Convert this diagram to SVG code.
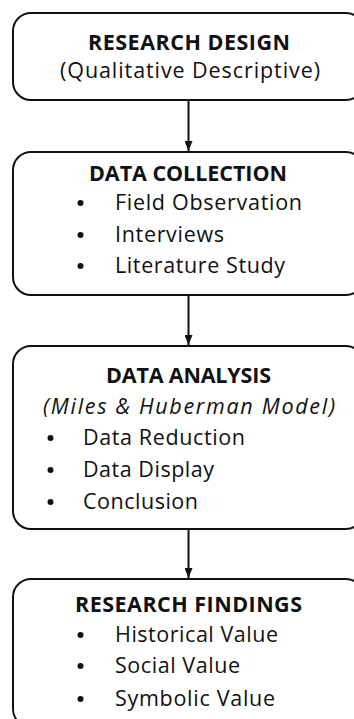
<svg xmlns="http://www.w3.org/2000/svg" width="354" height="719" viewBox="0 0 354 719">
<style>
.box{fill:#fff;stroke:#111;stroke-width:2}
.t{font-family:"Open Sans","Noto Sans","Liberation Sans",sans-serif;font-size:21.5px;fill:#111}
.b{font-weight:bold}
.i{font-style:italic}
.dot{fill:#111}
.con{stroke:#111;stroke-width:2;fill:none}
</style>
<defs>
<marker id="ah" viewBox="0 0 10 8" refX="10" refY="4" markerWidth="10" markerHeight="8" markerUnits="userSpaceOnUse" orient="auto">
<path d="M0,0 L10,4 L0,8 Z" fill="#111"/>
</marker>
</defs>
<rect width="354" height="719" fill="#fff"/>
<g id="connectors">
<line class="con" x1="188.5" y1="101" x2="188.5" y2="151" marker-end="url(#ah)"/>
<line class="con" x1="188.5" y1="296" x2="188.5" y2="345" marker-end="url(#ah)"/>
<line class="con" x1="188.5" y1="530" x2="188.5" y2="578" marker-end="url(#ah)"/>
</g>
<g id="research-design">
<rect class="box" x="13" y="13" width="351" height="87" rx="18"/>
<text class="t b" x="88" y="49.5" textLength="202">RESEARCH DESIGN</text>
<text class="t" x="60" y="77.5" textLength="260">(Qualitative Descriptive)</text>
</g>
<g id="data-collection">
<rect class="box" x="13" y="152" width="351" height="143" rx="18"/>
<text class="t b" x="89" y="181" textLength="198">DATA COLLECTION</text>
<circle class="dot" cx="80.5" cy="203" r="3"/>
<text class="t" x="115" y="210" textLength="187">Field Observation</text>
<circle class="dot" cx="80.5" cy="235" r="3"/>
<text class="t" x="115" y="242" textLength="109">Interviews</text>
<circle class="dot" cx="80.5" cy="266" r="3"/>
<text class="t" x="115" y="273" textLength="170">Literature Study</text>
</g>
<g id="data-analysis">
<rect class="box" x="13" y="346" width="351" height="183" rx="18"/>
<text class="t b" x="106" y="383" textLength="165">DATA ANALYSIS</text>
<text class="t i" x="43" y="414" textLength="292">(Miles &amp; Huberman Model)</text>
<circle class="dot" cx="50.5" cy="438" r="3"/>
<text class="t" x="83" y="445" textLength="162">Data Reduction</text>
<circle class="dot" cx="50.5" cy="470" r="3"/>
<text class="t" x="83" y="477" textLength="131">Data Display</text>
<circle class="dot" cx="50.5" cy="502" r="3"/>
<text class="t" x="83" y="509" textLength="115">Conclusion</text>
</g>
<g id="research-findings">
<rect class="box" x="13" y="579" width="351" height="148" rx="18"/>
<text class="t b" x="75" y="612" textLength="227">RESEARCH FINDINGS</text>
<circle class="dot" cx="80.5" cy="635" r="3"/>
<text class="t" x="115" y="642" textLength="163">Historical Value</text>
<circle class="dot" cx="80.5" cy="666" r="3"/>
<text class="t" x="115" y="673" textLength="125">Social Value</text>
<circle class="dot" cx="80.5" cy="699" r="3"/>
<text class="t" x="115" y="706" textLength="160">Symbolic Value</text>
</g>
</svg>
